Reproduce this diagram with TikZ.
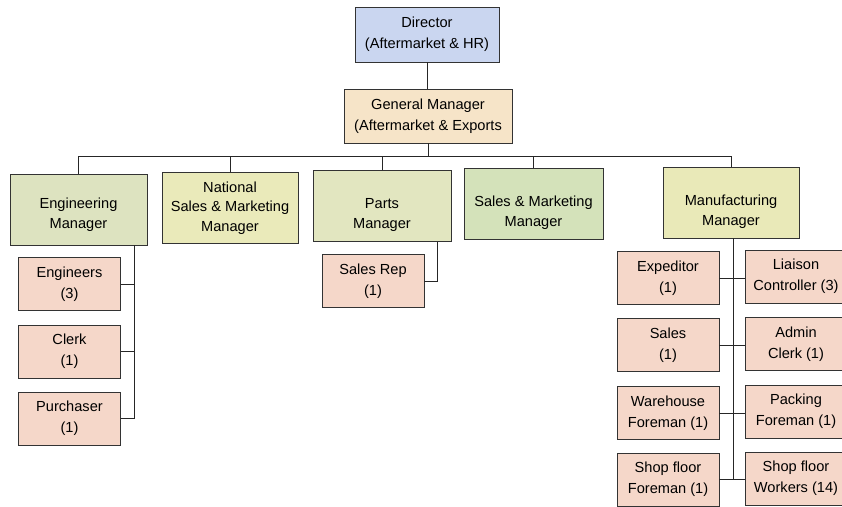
\documentclass[tikz,border=0pt]{standalone}
\usepackage{fontspec}
\setmainfont{Liberation Sans}
\begin{document}
\begin{tikzpicture}[x=1pt,y=-1pt,
  box/.style={draw=black!80, line width=0.9pt, rectangle, inner sep=0pt},
  txt/.style={align=center, font=\fontsize{14.6}{19.5}\selectfont, inner sep=0pt},
  staff/.style={box, fill=staffpink, minimum width=102pt, minimum height=53pt, align=center, font=\fontsize{14.6}{21}\selectfont},
  mgr/.style={box, minimum width=137pt, minimum height=71pt},
  link/.style={draw=black!85, line width=0.9pt}]
\definecolor{dirblue}{RGB}{202,214,240}
\definecolor{gmcream}{RGB}{246,228,200}
\definecolor{engfill}{RGB}{221,227,192}
\definecolor{natfill}{RGB}{234,234,186}
\definecolor{partsfill}{RGB}{226,230,192}
\definecolor{smfill}{RGB}{212,226,186}
\definecolor{mfgfill}{RGB}{233,233,184}
\definecolor{staffpink}{RGB}{245,215,201}
\useasboundingbox (0,0) rectangle (842,506);
\clip (0,0) rectangle (842,506);

% top of the chart
\node[box, fill=dirblue, minimum width=144pt, minimum height=55pt, align=center,
      font=\fontsize{14.6}{21}\selectfont] (dir) at (427,34.5) {Director\\(Aftermarket \& HR)};
\node[box, fill=gmcream, minimum width=168pt, minimum height=54pt, align=center,
      font=\fontsize{14.6}{21}\selectfont] (gm) at (428,116) {General Manager\\(Aftermarket \& Exports};

% managers
\node[mgr, fill=engfill] (eng) at (78.5,209.5) {};
\node[txt] (eng-t) at ([yshift=-5]eng.center) {Engineering\\Manager};
\node[mgr, fill=natfill, minimum width=136pt] (nat) at (230,208) {};
\node[txt] (nat-t) at (nat.center) {National\\Sales \& Marketing\\Manager};
\node[mgr, fill=partsfill, minimum width=138pt] (parts) at (382,206) {};
\node[txt] (parts-t) at ([yshift=-9]parts.center) {Parts\\Manager};
\node[mgr, fill=smfill, minimum width=139pt] (sm) at (533.5,203.5) {};
\node[txt] (sm-t) at ([yshift=-9]sm.center) {Sales \& Marketing\\Manager};
\node[mgr, fill=mfgfill, minimum width=136pt] (mfg) at (731,202.5) {};
\node[txt] (mfg-t) at ([yshift=-9]mfg.center) {Manufacturing\\Manager};

% engineering staff
\node[staff] (engi) at (69.5,284) {Engineers\\(3)};
\node[staff] (clerk) at (69.5,351.5) {Clerk\\(1)};
\node[staff] (purch) at (69.5,418.5) {Purchaser\\(1)};

% parts staff
\node[staff] (rep) at (373,281) {Sales Rep\\(1)};

% manufacturing staff
\node[staff] (exp) at (668,278) {Expeditor\\(1)};
\node[staff] (sales) at (668,345) {Sales\\(1)};
\node[staff] (ware) at (668,413) {Warehouse\\Foreman (1)};
\node[staff] (sff) at (668,479.5) {Shop floor\\Foreman (1)};
\node[staff] (liai) at (796,276.5) {Liaison\\Controller (3)};
\node[staff] (admin) at (796,344) {Admin\\Clerk (1)};
\node[staff] (pack) at (796,411.5) {Packing\\Foreman (1)};
\node[staff] (sfw) at (796,478.5) {Shop floor\\Workers (14)};

% reporting lines
\coordinate (bus) at (0,156);
\coordinate (engtrunk) at (134,0);
\coordinate (partstrunk) at (437,0);
\coordinate (mfgtrunk) at (733,0);

\draw[link] (dir.south) -- (dir.south |- gm.north);
\draw[link] (gm.south) -- (gm.south |- bus);
\draw[link] (eng.north) -- (eng.north |- bus) -- (mfg.north |- bus) -- (mfg.north);
\draw[link] (nat.north) -- (nat.north |- bus);
\draw[link] (parts.north) -- (parts.north |- bus);
\draw[link] (sm.north) -- (sm.north |- bus);

\draw[link] (eng.south -| engtrunk) -- (engtrunk |- purch.east) -- (purch.east);
\draw[link] (engi.east) -- (engi.east -| engtrunk);
\draw[link] (clerk.east) -- (clerk.east -| engtrunk);

\draw[link] (parts.south -| partstrunk) -- (partstrunk |- rep.east) -- (rep.east);

\draw[link] (mfg.south -| mfgtrunk) -- (mfgtrunk |- sff.east);
\draw[link] (exp.east) -- (exp.east -| liai.west);
\draw[link] (sales.east) -- (sales.east -| admin.west);
\draw[link] (ware.east) -- (ware.east -| pack.west);
\draw[link] (sff.east) -- (sff.east -| sfw.west);
\end{tikzpicture}
\end{document}
